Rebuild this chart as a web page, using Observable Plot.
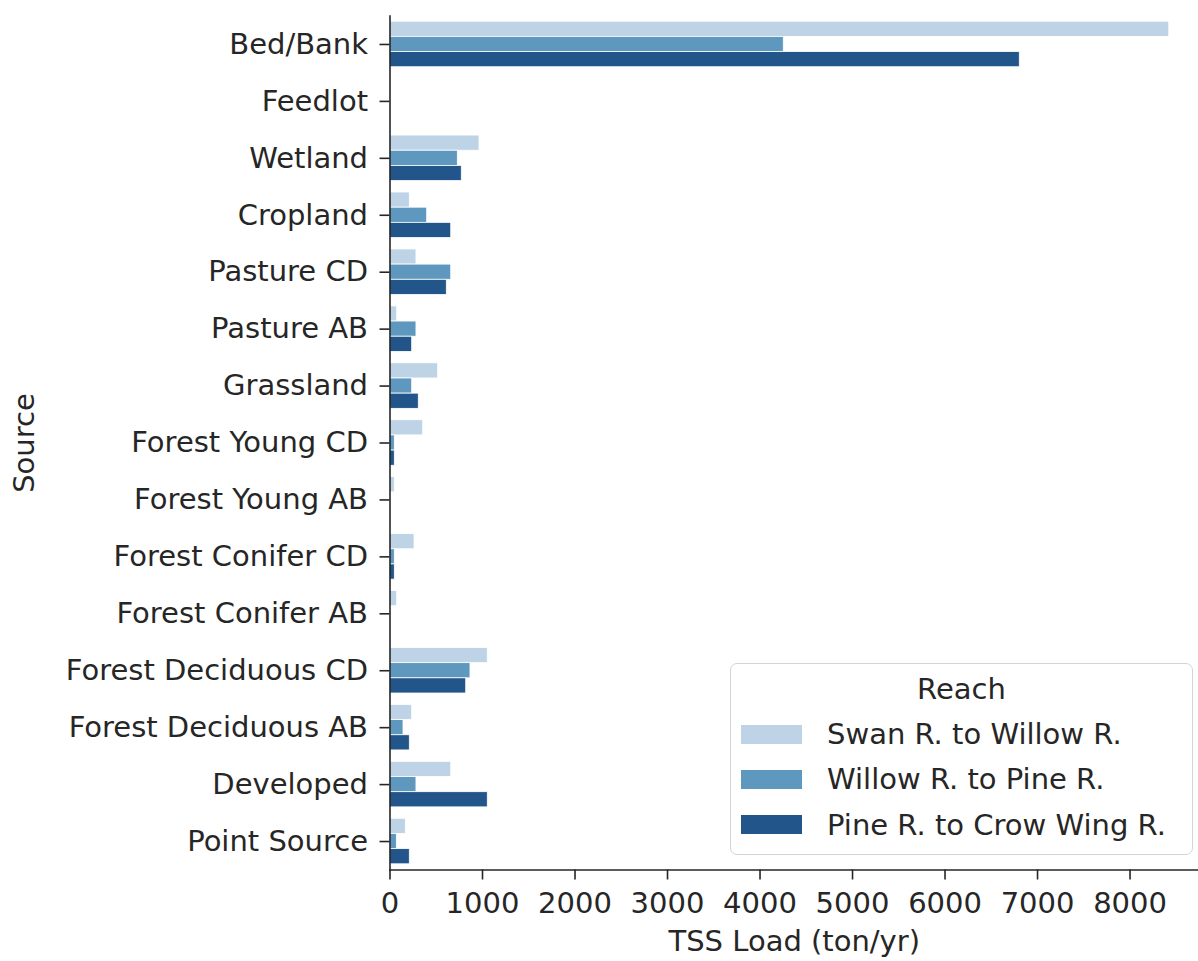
<!DOCTYPE html>
<html>
<head>
<meta charset="utf-8">
<script src="https://cdn.jsdelivr.net/npm/d3@7"></script>
<script src="https://cdn.jsdelivr.net/npm/@observablehq/plot@0.6"></script>
<style>
  body { margin: 0; background: #fff; }
  #chart { position: relative; width: 1198px; height: 961px; font-family: "DejaVu Sans", sans-serif; color: #262626; }
  #legend {
    position: absolute; left: 730px; top: 663px; width: 463px; height: 192px;
    box-sizing: border-box; border: 1.5px solid #d4d4d4; border-radius: 7px;
    background: rgba(255,255,255,0.85); font-size: 29px; color: #262626;
  }
  #legend .title { position: absolute; left: 0; right: 0; top: 8px; text-align: center; }
  #legend .row { position: absolute; left: 10px; height: 36px; display: flex; align-items: center; white-space: nowrap; }
  #legend .sw { width: 61px; height: 19px; margin-right: 25px; flex: none; }
</style>
</head>
<body>
<div id="chart"></div>
<script>
// Sediment sources along the river, top to bottom
const sources = [
  "Bed/Bank", "Feedlot", "Wetland", "Cropland", "Pasture CD", "Pasture AB",
  "Grassland", "Forest Young CD", "Forest Young AB", "Forest Conifer CD",
  "Forest Conifer AB", "Forest Deciduous CD", "Forest Deciduous AB",
  "Developed", "Point Source"
];

// Reaches and their colours
const reaches = ["Swan R. to Willow R.", "Willow R. to Pine R.", "Pine R. to Crow Wing R."];
const reachColors = ["#bed4e6", "#5f98bf", "#22558a"];

// TSS load (ton/yr) per source, one array per reach
const swanToWillow   = [8424, 0, 968, 214, 286,  78, 521, 359, 52, 265, 78, 1057, 240,  662, 171];
const willowToPine   = [4257, 0, 733, 402, 662, 286, 240,  52,  0,  52,  0,  870, 146,  286,  74];
const pineToCrowWing = [6808, 0, 776, 662, 614, 240, 311,  52,  0,  52,  0,  824, 214, 1057, 214];

const xTicks = [0, 1000, 2000, 3000, 4000, 5000, 6000, 7000, 8000];

const seriesValues = [swanToWillow, willowToPine, pineToCrowWing];
const data = [];
sources.forEach((s, i) => reaches.forEach((r, j) => data.push({source: s, reach: r, value: seriesValues[j][i]})));

// Layout
const width = 1198, height = 961;
const marginTop = 15.5, marginBottom = 91.5, marginLeft = 389.5, marginRight = 0;
const ink = "#262626";
const fontSize = 29;

// Each source band holds 80% of its step; the three reach bars split it evenly
const step = (height - marginTop - marginBottom) / sources.length;
const barH = step * 0.8 / reaches.length;

const bars = reaches.map((r, j) => Plot.barX(data.filter(d => d.reach === r && d.value > 0), {
  x: "value", y: "source", fill: "reach",
  stroke: "white", strokeWidth: 0.8,
  insetTop: j * barH, insetBottom: (reaches.length - 1 - j) * barH
}));

const chart = Plot.plot({
  width, height, marginTop, marginBottom, marginLeft, marginRight,
  style: {fontFamily: "'DejaVu Sans', sans-serif", fontSize: fontSize + "px", color: ink, background: "white"},
  x: {domain: [0, 8740]},
  y: {domain: sources, paddingInner: 0.2, paddingOuter: 0.1, round: false},
  color: {domain: reaches, range: reachColors},
  marks: [
    ...bars,
    Plot.frame({anchor: "left", stroke: ink, strokeWidth: 1.6}),
    Plot.frame({anchor: "bottom", stroke: ink, strokeWidth: 1.6}),
    Plot.axisX({
      ticks: xTicks, tickFormat: d3.format("d"),
      tickSize: 10, tickPadding: 12, stroke: ink, strokeWidth: 1.6, fill: ink,
      label: "TSS Load (ton/yr)", labelAnchor: "center", labelArrow: "none", labelOffset: 81
    }),
    Plot.axisY({
      tickSize: 10, tickPadding: 12, stroke: ink, strokeWidth: 1.6, fill: ink,
      label: "Source", labelAnchor: "center", labelArrow: "none", labelOffset: 377
    })
  ]
});

const holder = document.getElementById("chart");
holder.appendChild(chart);

// Legend in the lower right, coloured through the chart's own colour scale
const color = chart.scale("color");
const colorOf = d3.scaleOrdinal(color.domain, color.range);
const legend = document.createElement("div");
legend.id = "legend";
const title = document.createElement("div");
title.className = "title";
title.textContent = "Reach";
legend.appendChild(title);
reaches.forEach((r, i) => {
  const row = document.createElement("div");
  row.className = "row";
  row.style.top = (52 + i * 45.3) + "px";
  const sw = document.createElement("div");
  sw.className = "sw";
  sw.style.background = colorOf(r);
  const label = document.createElement("span");
  label.textContent = r;
  row.appendChild(sw);
  row.appendChild(label);
  legend.appendChild(row);
});
holder.appendChild(legend);
</script>
</body>
</html>
